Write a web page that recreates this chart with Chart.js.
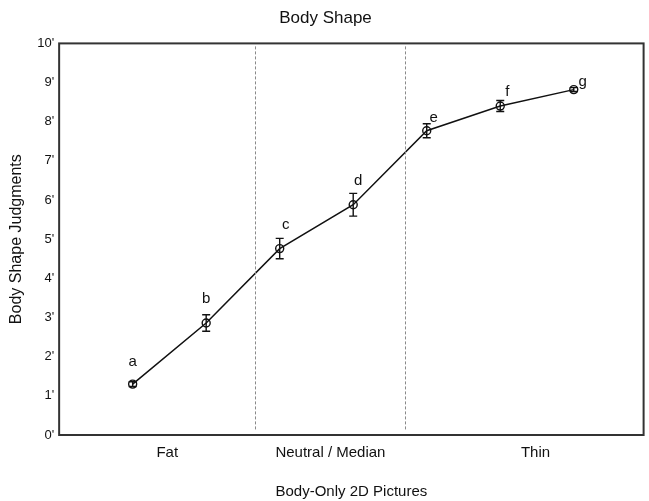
<!DOCTYPE html>
<html>
<head>
<meta charset="utf-8">
<script src="https://cdn.jsdelivr.net/npm/chart.js@4"></script>
<style>
  html,body{margin:0;padding:0;background:#fff;}
  #wrap{width:649px;height:501px;}
</style>
</head>
<body>
<div id="wrap"><canvas id="chart" width="649" height="501"></canvas></div>
<script>
// =====================
// DATA
// =====================

const pictures = ["a","b","c","d","e","f","g"];
const judgments = [1.30, 2.86, 4.76, 5.88, 7.77, 8.40, 8.82];
const errors = [0.06, 0.21, 0.26, 0.29, 0.18, 0.14, 0.05];

const groupNames = ["Fat","Neutral / Median","Thin"];
const groupCenters = [0.47, 2.69, 5.48];
const dividers = [1.67, 3.71];

const yTicks = [0,1,2,3,4,5,6,7,8,9,10];

// label offsets (px) for the letters
const labelOffsets = [[0,-22],[0,-24],[6,-24],[5,-24],[7,-13],[7,-14],[9,-8]];

const FONT = "'Liberation Sans', Arial, sans-serif";

// =====================
// PLUGINS
// =====================

const extras = {
  id:"extras",
  afterDatasetsDraw(chart){
    const ctx = chart.ctx;
    const xs = chart.scales.x, ys = chart.scales.y;
    const a = chart.chartArea;

    // dashed dividers
    ctx.save();
    ctx.strokeStyle = "#8a8a8a";
    ctx.lineWidth = 1;
    ctx.setLineDash([3,2]);
    dividers.forEach(d=>{
      const px = Math.round(xs.getPixelForValue(d)) + 0.5;
      ctx.beginPath();
      ctx.moveTo(px, a.top + 3);
      ctx.lineTo(px, a.bottom - 4);
      ctx.stroke();
    });
    ctx.restore();

    // error bars
    ctx.save();
    ctx.strokeStyle = "#111";
    ctx.lineWidth = 1.4;
    judgments.forEach((v,i)=>{
      const px = xs.getPixelForValue(i);
      const top = ys.getPixelForValue(v + errors[i]);
      const bot = ys.getPixelForValue(v - errors[i]);
      ctx.beginPath();
      ctx.moveTo(px, top); ctx.lineTo(px, bot);
      ctx.moveTo(px-4, top); ctx.lineTo(px+4, top);
      ctx.moveTo(px-4, bot); ctx.lineTo(px+4, bot);
      ctx.stroke();
    });
    ctx.restore();

    // letters
    ctx.save();
    ctx.fillStyle = "#111";
    ctx.font = "15px " + FONT;
    ctx.textAlign = "center";
    ctx.textBaseline = "middle";
    pictures.forEach((p,i)=>{
      const px = xs.getPixelForValue(i) + labelOffsets[i][0];
      const py = ys.getPixelForValue(judgments[i]) + labelOffsets[i][1];
      ctx.fillText(p, px, py);
    });
    ctx.restore();

    // frame
    ctx.save();
    ctx.strokeStyle = "#333";
    ctx.lineWidth = 2;
    ctx.strokeRect(a.left, a.top, a.right - a.left, a.bottom - a.top);
    ctx.restore();
  }
};

// =====================
// CHART
// =====================

new Chart(document.getElementById("chart"), {
  type:"line",
  data:{
    datasets:[{
      data: judgments.map((v,i)=>({x:i, y:v})),
      borderColor:"#111",
      borderWidth:1.5,
      pointStyle:"circle",
      pointRadius:4,
      pointBorderWidth:1.4,
      pointBorderColor:"#111",
      pointBackgroundColor:"rgba(0,0,0,0)",
      tension:0
    }]
  },
  options:{
    responsive:false,
    animation:false,
    layout:{padding:{left:7,right:5,top:0,bottom:0}},
    plugins:{
      legend:{display:false},
      tooltip:{enabled:false},
      title:{
        display:true,
        text:"Body Shape",
        color:"#111",
        font:{family:FONT,size:17,weight:"normal"},
        padding:{top:8,bottom:15}
      }
    },
    scales:{
      x:{
        type:"linear",
        min:-1,
        max:6.95,
        grid:{display:false,drawTicks:false},
        border:{display:false},
        afterBuildTicks(scale){
          scale.ticks = groupCenters.map(v=>({value:v}));
        },
        ticks:{
          color:"#111",
          font:{family:FONT,size:15},
          padding:9,
          maxRotation:0,
          autoSkip:false,
          callback(v){
            const i = groupCenters.indexOf(v);
            return i >= 0 ? groupNames[i] : "";
          }
        },
        title:{
          display:true,
          text:"Body-Only 2D Pictures",
          color:"#111",
          font:{family:FONT,size:15},
          padding:{top:12,bottom:0}
        }
      },
      y:{
        min:0,
        max:10,
        grid:{display:false,drawTicks:false},
        border:{display:false},
        afterBuildTicks(scale){
          scale.ticks = yTicks.map(v=>({value:v}));
        },
        ticks:{
          color:"#111",
          font:{family:FONT,size:13},
          padding:5,
          callback(v){ return v + "'"; }
        },
        title:{
          display:true,
          text:"Body Shape Judgments",
          color:"#111",
          font:{family:FONT,size:16},
          padding:{top:0,bottom:6}
        }
      }
    }
  },
  plugins:[extras]
});
</script>
</body>
</html>
